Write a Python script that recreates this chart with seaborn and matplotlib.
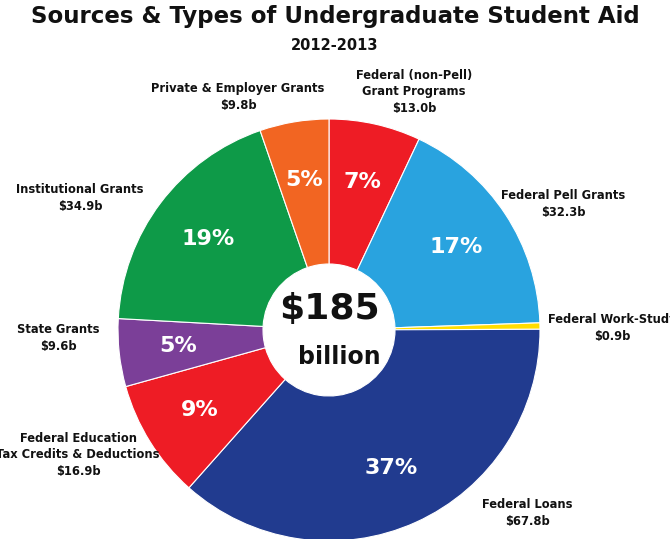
import matplotlib
matplotlib.use("Agg")
import matplotlib.pyplot as plt
import seaborn as sns

labels = ["Federal (non-Pell)\nGrant Programs", "Federal Pell Grants", "Federal Work-Study",
          "Federal Loans", "Federal Education\nTax Credits & Deductions", "State Grants",
          "Institutional Grants", "Private & Employer Grants"]
values = [13.0, 32.3, 0.9, 67.8, 16.9, 9.6, 34.9, 9.8]
pct_text = ["7%", "17%", "", "37%", "9%", "5%", "19%", "5%"]
colors = ["#EE1C25", "#29A3DF", "#FFDD00", "#213B8F", "#EE1C25", "#7B3F98", "#0E9A48", "#F26522"]
label_pos = [(414, 92), (563, 204), (612, 328), (527, 513),
             (78, 455), (58, 338), (80, 198), (238, 97)]

sns.set_theme(style="white")
plt.rcParams['font.family'] = ['DejaVu Sans']
W, H = 670, 539
fig = plt.figure(figsize=(W/100, H/100), dpi=100)
cx, cy, R = 329, 330, 211
ax = fig.add_axes([(cx-R)/W, (H-cy-R)/H, 2*R/W, 2*R/H])
ax.pie(values, colors=colors, startangle=90, counterclock=False, radius=1,
       wedgeprops=dict(width=1-66/211, edgecolor="white", linewidth=0.8),
       labels=pct_text, labeldistance=0.72,
       textprops=dict(color="white", fontsize=16, fontweight="bold", ha="center", va="center"))
ax.set_xlim(-1, 1); ax.set_ylim(-1, 1); ax.set_aspect("equal"); ax.axis("off")
ax.text(0, 0.1, "$185", ha="center", va="center", fontsize=26, fontweight="bold", color="#111")
ax.text(0.05, -0.13, "billion", ha="center", va="center", fontsize=17, fontweight="bold", color="#111")

def px(x, y):
    return x/W, 1-y/H

for lab, v, (x, y) in zip(labels, values, label_pos):
    fig.text(*px(x, y), f"{lab}\n${v:.1f}b", ha="center", va="center", fontsize=8.3,
             fontweight="bold", color="#111", linespacing=1.35)

fig.text(*px(335, 17), "Sources & Types of Undergraduate Student Aid", ha="center", va="center",
         fontsize=16.5, fontweight="bold", color="#111")
fig.text(*px(335, 45), "2012-2013", ha="center", va="center", fontsize=10.5, fontweight="bold", color="#111")
fig.savefig("out.png", dpi=100)
